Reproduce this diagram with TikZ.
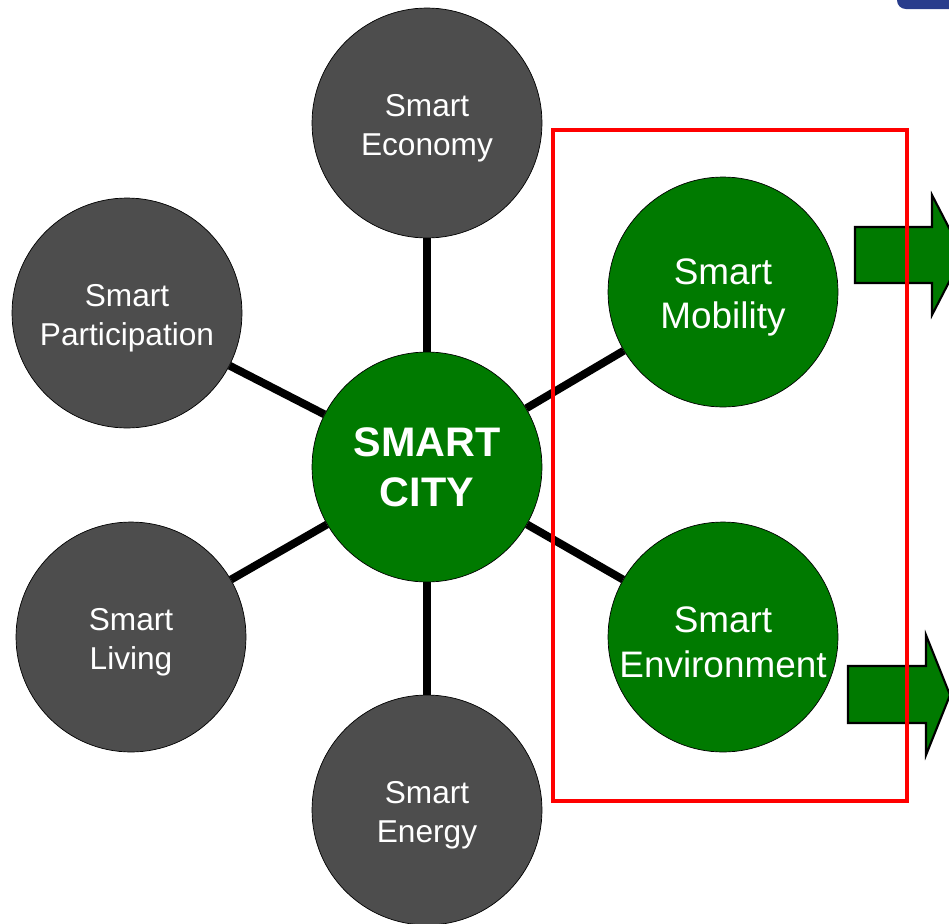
\documentclass[tikz,border=0pt]{standalone}
\usepackage{fontspec}
\setmainfont{Liberation Sans}
\definecolor{hubgreen}{HTML}{007A00}
\definecolor{pillargrey}{HTML}{4D4D4D}
\definecolor{tabblue}{HTML}{283C8C}
\newcommand{\gcol}{hubgreen}
\newcommand{\dcol}{pillargrey}
\usepackage{tikz}

\begin{document}
\begin{tikzpicture}[x=0.02cm, y=-0.02cm,
    pillar/.style={circle, draw=black, fill=\dcol, text=white, minimum size=4.6cm,
      inner sep=0pt, align=center, font=\fontsize{18}{22.5}\selectfont,
      execute at begin node={\rule{0pt}{1.45cm}}},
    focus/.style={pillar, fill=\gcol, font=\fontsize{21}{25.5}\selectfont,
      execute at begin node={\rule{0pt}{1.63cm}}},
    spoke/.style={draw=black, line width=4.5pt},
    bigarrow/.style={draw=black, line width=1.2pt, fill=\gcol}]

    \clip (0, 0) rectangle (949, 923);

    % corner tab
    \fill[tabblue, rounded corners=5pt] (897, -20) -- (897, 9) -- (960, 9) -- (960, -20) -- cycle;

    \node[pillar] (economy) at (427, 123) {Smart\\Economy};
    \node[pillar] (particip) at (127, 313) {Smart\\Participation};
    \node[pillar] (living) at (131, 637) {Smart\\Living};
    \node[pillar] (energy) at (427, 810) {Smart\\Energy};
    \node[focus] (mobility) at (723, 292) {Smart\\Mobility};
    \node[focus] (environ) at (723, 637) {Smart\\Environment};

    \node[circle, draw=black, fill=\gcol, text=white, minimum size=4.6cm, inner sep=0pt,
      align=center, font=\fontsize{23.5}{28.5}\selectfont\bfseries] (city) at (427, 467) {SMART\\CITY};

    \draw[spoke] (city) -- (economy);
    \draw[spoke] (city) -- (particip);
    \draw[spoke] (city) -- (living);
    \draw[spoke] (city) -- (energy);
    \draw[spoke] (city) -- (mobility);
    \draw[spoke] (city) -- (environ);

    % outgoing arrows
    \draw[bigarrow] (855, 227) -- (932, 227) -- (932, 195) -- (963, 255)
      -- (932, 315) -- (932, 283) -- (855, 283) -- cycle;
    \draw[bigarrow] (848, 666) -- (926, 666) -- (926, 635) -- (950, 695)
      -- (926, 755) -- (926, 723) -- (848, 723) -- cycle;

    \draw[red, line width=1.8pt] (553, 130) rectangle (907, 801);

  \end{tikzpicture}
\end{document}
